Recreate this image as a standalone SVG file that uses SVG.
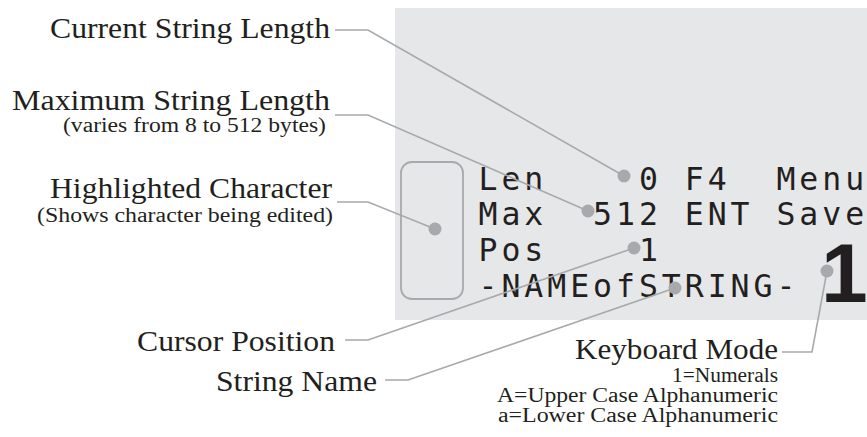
<svg xmlns="http://www.w3.org/2000/svg" width="867" height="437" viewBox="0 0 867 437">
<style>
.lbl{font-family:"Liberation Serif","Times New Roman",serif;fill:#231f20;text-anchor:end}
.big{font-size:30px}
.small{font-size:20px}
.lcd{font-family:"DejaVu Sans Mono",monospace;font-size:31.5px;letter-spacing:3.95px;fill:#231f20}
.conn{fill:none;stroke:#a7a9ac;stroke-width:1.6}
.dot{fill:#a7a9ac}
</style>
<rect id="panel" x="395" y="8" width="472" height="312" fill="#e6e7e8"/>
<g id="highlight-box">
<rect x="401" y="162" width="62" height="137" rx="11" fill="none" stroke="#a7a9ac" stroke-width="1.8"/>
</g>
<g id="lcd-text">
<text class="lcd" x="478.5" y="190" xml:space="preserve">Len    0 F4  Menu</text>
<text class="lcd" x="478.5" y="225" xml:space="preserve">Max  512 ENT Save</text>
<text class="lcd" x="478.5" y="261" xml:space="preserve">Pos    1</text>
<text class="lcd" x="478.5" y="297" xml:space="preserve">-NAMEofSTRING-</text>
</g>
<g id="mode-digit">
<text x="821" y="302" font-family="'Liberation Sans',Arial,sans-serif" font-weight="bold" font-size="84" fill="#231f20">1</text>
</g>
<g id="connectors">
<polyline class="conn" points="335,30 368,30 624,176"/>
<polyline class="conn" points="335,115 368,115 588,211"/>
<polyline class="conn" points="337,202 368,202 435,229"/>
<polyline class="conn" points="345,340 368,340 634,248"/>
<polyline class="conn" points="385,380 408,380 675,288"/>
<polyline class="conn" points="782,352 812,352 827,271"/>
<circle class="dot" cx="624" cy="176" r="6.5"/>
<circle class="dot" cx="588" cy="211" r="6.5"/>
<circle class="dot" cx="435" cy="229" r="6.5"/>
<circle class="dot" cx="634" cy="248" r="6.5"/>
<circle class="dot" cx="675" cy="288" r="6.5"/>
<circle class="dot" cx="827" cy="271" r="6.5"/>
</g>
<g id="current-length">
<text class="lbl big" x="330" y="38" textLength="280" lengthAdjust="spacingAndGlyphs">Current String Length</text>
</g>
<g id="max-length">
<text class="lbl big" x="330" y="110" textLength="318" lengthAdjust="spacingAndGlyphs">Maximum String Length</text>
<text class="lbl small" x="326" y="132" textLength="263" lengthAdjust="spacingAndGlyphs">(varies from 8 to 512 bytes)</text>
</g>
<g id="highlighted-char">
<text class="lbl big" x="332" y="198" textLength="282" lengthAdjust="spacingAndGlyphs">Highlighted Character</text>
<text class="lbl small" x="333" y="222" textLength="296" lengthAdjust="spacingAndGlyphs">(Shows character being edited)</text>
</g>
<g id="cursor-position">
<text class="lbl big" x="335" y="351" textLength="198" lengthAdjust="spacingAndGlyphs">Cursor Position</text>
</g>
<g id="string-name">
<text class="lbl big" x="377" y="391" textLength="161" lengthAdjust="spacingAndGlyphs">String Name</text>
</g>
<g id="keyboard-mode">
<text class="lbl big" x="778" y="359" textLength="203" lengthAdjust="spacingAndGlyphs">Keyboard Mode</text>
<text class="lbl small" x="778" y="382" textLength="106" lengthAdjust="spacingAndGlyphs">1=Numerals</text>
<text class="lbl small" x="778" y="402" textLength="281" lengthAdjust="spacingAndGlyphs">A=Upper Case Alphanumeric</text>
<text class="lbl small" x="778" y="422" textLength="280" lengthAdjust="spacingAndGlyphs">a=Lower Case Alphanumeric</text>
</g>
</svg>
